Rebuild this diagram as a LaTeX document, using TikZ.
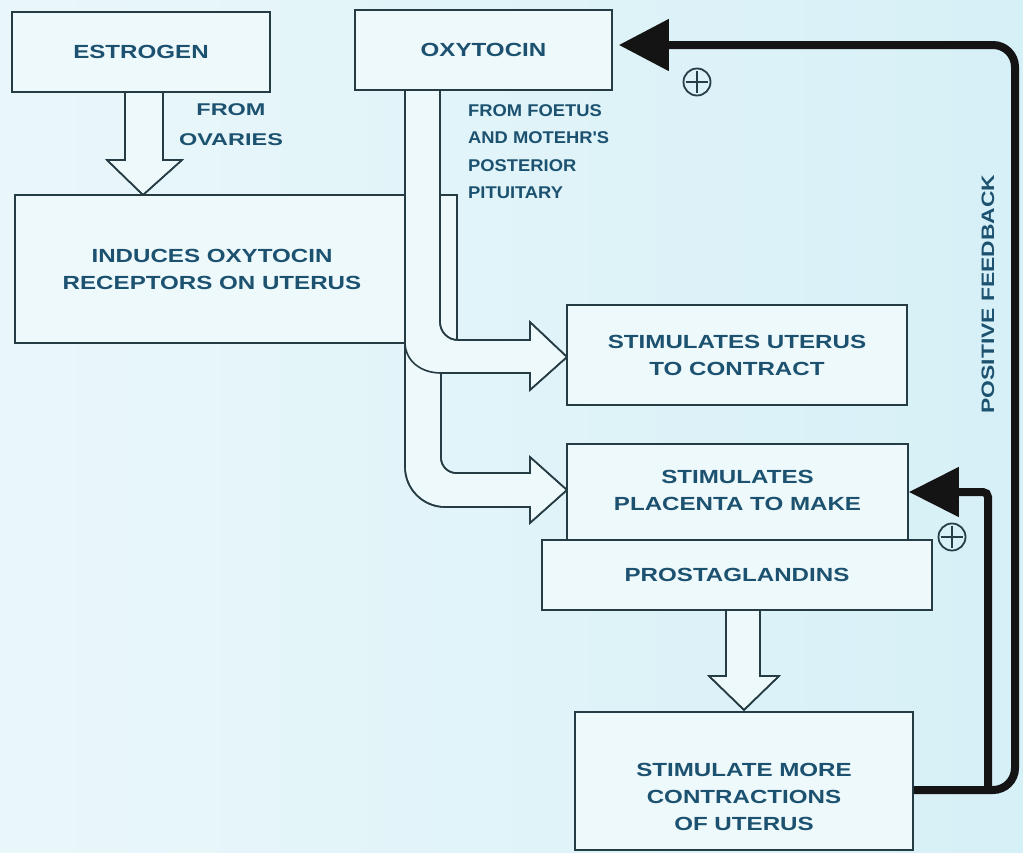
\documentclass[tikz,border=0pt]{standalone}
\usepackage{fontspec}
\setmainfont{Liberation Sans}
\newfontfamily\bigf[FakeStretch=1.27]{Liberation Sans}
\newfontfamily\smallf[FakeStretch=1.08]{Liberation Sans}
\newfontfamily\ovf[FakeStretch=1.38]{Liberation Sans}
\usetikzlibrary{arrows.meta}
\definecolor{bgL}{RGB}{234,247,250}
\definecolor{bgR}{RGB}{214,240,247}
\definecolor{boxfill}{RGB}{238,249,251}
\definecolor{ink}{RGB}{38,60,68}
\definecolor{txt}{RGB}{28,82,112}
\begin{document}
\begin{tikzpicture}[x=1pt,y=-1pt,
  box/.style={draw=ink, line width=1.6pt, fill=boxfill, inner sep=0pt},
  bigtxt/.style={text=txt, font=\bigf\bfseries\fontsize{19}{27}\selectfont, align=center, inner sep=0pt},
  smalltxt/.style={text=txt, font=\smallf\bfseries\fontsize{17}{27.5}\selectfont, align=left, inner sep=0pt},
  ovtxt/.style={text=txt, font=\ovf\bfseries\fontsize{17}{30}\selectfont, align=center, inner sep=0pt},
  block/.style={draw=ink, line width=1.6pt, fill=boxfill, line join=round},
  blockline/.style={draw=ink, line width=1.6pt},
  fb/.style={draw=black!92, line width=8pt},
  plus/.style={circle, draw=ink!90!txt, line width=1.8pt, minimum size=27pt, inner sep=0pt},
  plusbar/.style={draw=ink!90!txt, line width=1.8pt, shorten <=3pt, shorten >=3pt}
]
\shade[left color=bgL, right color=bgR] (0,0) rectangle (1023,852);
\useasboundingbox (0,0) rectangle (1023,852);

% boxes
\node[box, minimum width=258pt, minimum height=80pt, bigtxt] (est) at (141,52) {ESTROGEN};
\node[box, minimum width=257pt, minimum height=80pt, bigtxt] (oxy) at (483.5,50) {OXYTOCIN};
\node[box, minimum width=442pt, minimum height=148pt] (ind) at (236,269) {};
\node[bigtxt] (indtxt) at (212,269) {INDUCES OXYTOCIN\\RECEPTORS ON UTERUS};
\node[box, minimum width=340pt, minimum height=100pt, bigtxt] (ute) at (737,355) {STIMULATES UTERUS\\TO CONTRACT};
\node[box, minimum width=341pt, minimum height=96pt] (plac) at (737.5,492) {};
\node[bigtxt] (plactxt) at (737.5,490) {STIMULATES\\PLACENTA TO MAKE};
\node[box, minimum width=390pt, minimum height=70pt, bigtxt] (pros) at (737,575) {PROSTAGLANDINS};
\node[box, minimum width=338pt, minimum height=138pt] (more) at (744,781) {};
\node[bigtxt] (moretxt) at (744,796.5) {STIMULATE MORE\\CONTRACTIONS\\OF UTERUS};

% side texts
\node[ovtxt] (ovar) at (231,125) {FROM\\OVARIES};
\node[smalltxt, anchor=west] (foet) at (468,151.5) {FROM FOETUS\\AND MOTEHR'S\\POSTERIOR\\PITUITARY};
\node[bigtxt, font=\bigf\bfseries\fontsize{18}{20}\selectfont, rotate=90] (pfb) at (988,294) {POSITIVE FEEDBACK};

% estrogen block arrow
\path[block] (125,92) -- (125,160) -- (107,160) -- (143,195) -- (182,160) -- (163,160) -- (163,92) -- cycle;
\draw[blockline] (125,92) -- (125,160) -- (107,160) -- (143,195) -- (182,160) -- (163,160) -- (163,92);

% oxytocin fork block arrow
\path[block] (405,90) -- (405,467) .. controls (405,489) and (423,507) .. (445,507) -- (530,507)
  -- (530,523) -- (567,490) -- (530,457) -- (530,473) -- (456,473)
  .. controls (448,473) and (441,466) .. (441,458) -- (441,373) -- (530,373)
  -- (530,390) -- (567,357) -- (530,322) -- (530,340) -- (458,340)
  .. controls (448,340) and (440,332) .. (440,322) -- (440,90) -- cycle;
\draw[blockline] (405,90) -- (405,467) .. controls (405,489) and (423,507) .. (445,507) -- (530,507)
  -- (530,523) -- (567,490) -- (530,457) -- (530,473) -- (456,473)
  .. controls (448,473) and (441,466) .. (441,458) -- (441,373) -- (530,373)
  -- (530,390) -- (567,357) -- (530,322) -- (530,340) -- (458,340)
  .. controls (448,340) and (440,332) .. (440,322) -- (440,90);
\draw[blockline] (405,342) .. controls (405,361) and (421,373) .. (441,373);

% prostaglandins block arrow
\path[block] (726,610) -- (726,676) -- (709,676) -- (744,710) -- (779,676) -- (760,676) -- (760,610) -- cycle;
\draw[blockline] (726,610) -- (726,676) -- (709,676) -- (744,710) -- (779,676) -- (760,676) -- (760,610);

% positive feedback connectors
\draw[fb, rounded corners=22pt, -{Triangle[length=50pt,width=50pt]}]
  ([yshift=-9pt]more.east) -- (1015,790) -- (1015,45) -- ([xshift=6pt,yshift=5pt]oxy.east);
\draw[fb, rounded corners=5pt, -{Triangle[length=50pt,width=48pt]}]
  (988,790) -- (988,492) -- (plac.east);

% plus signs
\node[plus] (p1) at (697,82) {};
\draw[plusbar] (p1.north) -- (p1.south);
\draw[plusbar] (p1.west) -- (p1.east);
\node[plus] (p2) at (952,537) {};
\draw[plusbar] (p2.north) -- (p2.south);
\draw[plusbar] (p2.west) -- (p2.east);
\end{tikzpicture}
\end{document}
